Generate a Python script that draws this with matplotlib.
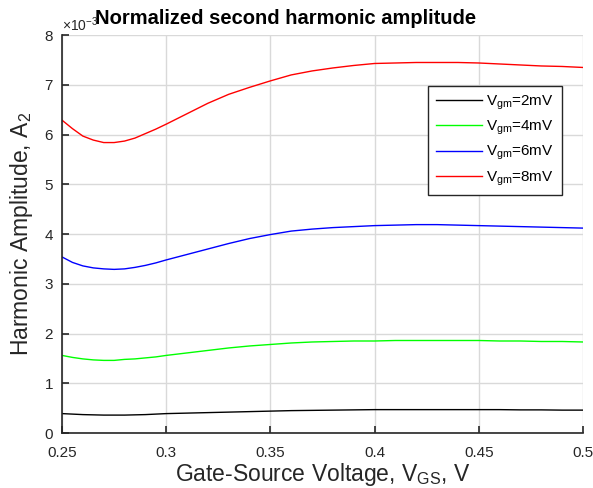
import numpy as np
import matplotlib
matplotlib.use('Agg')
from matplotlib import pyplot as plt
from matplotlib.ticker import ScalarFormatter

plt.rcParams['font.family'] = ['Liberation Sans', 'DejaVu Sans']
plt.rcParams['mathtext.fontset'] = 'custom'
plt.rcParams['mathtext.rm'] = 'Liberation Sans'
plt.rcParams['mathtext.it'] = 'Liberation Sans'

# gate-source voltage (V)
vgs = [0.25, 0.255, 0.26, 0.265, 0.27, 0.275, 0.28, 0.285, 0.29, 0.295,
       0.30, 0.31, 0.32, 0.33, 0.34, 0.35, 0.36, 0.37, 0.38, 0.39,
       0.40, 0.41, 0.42, 0.43, 0.44, 0.45, 0.46, 0.47, 0.48, 0.49, 0.50]
# second harmonic amplitude, in units of 1e-3
a2_2mv = [0.39, 0.38, 0.37, 0.365, 0.36, 0.36, 0.36, 0.365, 0.37, 0.38,
          0.39, 0.40, 0.41, 0.42, 0.43, 0.44, 0.45, 0.455, 0.46, 0.465,
          0.47, 0.47, 0.47, 0.47, 0.47, 0.47, 0.47, 0.465, 0.465, 0.46, 0.46]
a2_4mv = [1.56, 1.52, 1.49, 1.47, 1.46, 1.46, 1.48, 1.49, 1.51, 1.53,
          1.56, 1.61, 1.66, 1.71, 1.75, 1.78, 1.81, 1.83, 1.84, 1.85,
          1.85, 1.86, 1.86, 1.86, 1.86, 1.86, 1.85, 1.85, 1.84, 1.84, 1.83]
a2_6mv = [3.54, 3.43, 3.36, 3.32, 3.30, 3.29, 3.30, 3.33, 3.37, 3.42,
          3.48, 3.59, 3.70, 3.81, 3.91, 3.99, 4.06, 4.10, 4.13, 4.15,
          4.17, 4.18, 4.19, 4.19, 4.18, 4.17, 4.16, 4.15, 4.14, 4.13, 4.12]
a2_8mv = [6.29, 6.12, 5.97, 5.89, 5.84, 5.84, 5.87, 5.93, 6.02, 6.11,
          6.21, 6.42, 6.63, 6.81, 6.95, 7.08, 7.20, 7.28, 7.34, 7.39,
          7.43, 7.44, 7.45, 7.45, 7.45, 7.44, 7.42, 7.40, 7.38, 7.37, 7.35]
labels = [r'V$_{\rm gm}$=2mV', r'V$_{\rm gm}$=4mV', r'V$_{\rm gm}$=6mV', r'V$_{\rm gm}$=8mV']
colors = ['k', '#00ff00', '#0000ff', '#ff0000']

fig = plt.figure(figsize=(5.93, 4.88), dpi=100)
ax = fig.add_axes([0.1046, 0.1127, 0.8784, 0.8153])

for ys, lab, c in zip([a2_2mv, a2_4mv, a2_6mv, a2_8mv], labels, colors):
    ax.plot(vgs, np.array(ys) * 1e-3, color=c, lw=1.0, label=lab)

ax.set_xlim(0.25, 0.5)
ax.set_ylim(0, 8e-3)
ax.set_xticks([0.25, 0.3, 0.35, 0.4, 0.45, 0.5])
ax.set_xticklabels(['0.25', '0.3', '0.35', '0.4', '0.45', '0.5'])
ax.set_yticks(np.arange(0, 9) * 1e-3)
fmt = ScalarFormatter(useMathText=True)
fmt.set_powerlimits((-3, -3))
ax.yaxis.set_major_formatter(fmt)
ax.yaxis.get_offset_text().set_fontsize(10)
ax.yaxis.get_offset_text().set_color('#262626')

ax.grid(True, color='#d9d9d9', lw=1.0)
ax.set_axisbelow(True)
for s in ['top', 'right']:
    ax.spines[s].set_visible(False)
for s in ['left', 'bottom']:
    ax.spines[s].set_color('#262626')
    ax.spines[s].set_linewidth(1.2)
ax.tick_params(direction='in', length=5, width=1.2, colors='#262626', labelsize=11)
ax.tick_params(axis='x', pad=9)
ax.tick_params(axis='y', pad=6)

ax.set_title('Normalized second harmonic amplitude', fontsize=14.5, fontweight='bold',
             x=0.43, y=1.0, pad=8)
ax.set_xlabel(r'Gate-Source Voltage, V$_{\rm GS}$, V', fontsize=16.5, color='#262626', labelpad=1)
ax.set_ylabel(r'Harmonic Amplitude, A$_{\rm 2}$', fontsize=16.5, color='#262626', labelpad=6)

leg = ax.legend(loc='upper left', bbox_to_anchor=(0.703, 0.872), borderaxespad=0,
                fontsize=11, fancybox=False, framealpha=1, edgecolor='#262626',
                handlelength=3.0, handletextpad=0.3, borderpad=0.5, labelspacing=0.45)
leg.get_frame().set_linewidth(1.0)

fig.savefig('out.png', dpi=100)
